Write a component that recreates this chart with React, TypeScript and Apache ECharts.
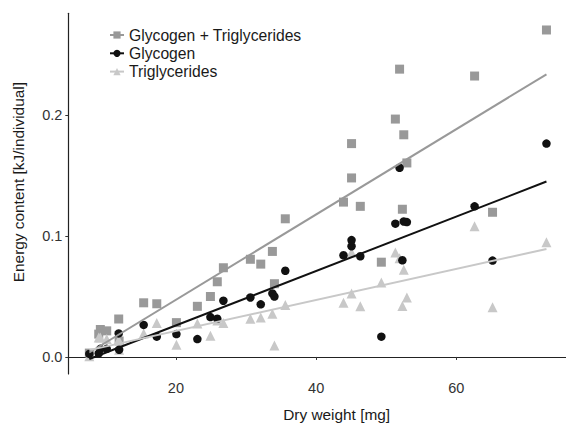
import React, { useEffect, useRef } from "react";
import * as echarts from "echarts";

// Dry weight [mg] of each individual
const dryWeight = [72.85, 51.9, 62.6, 51.3, 52.5, 45.05, 45.05, 52.94, 43.9, 46.3, 52.3, 65.16, 35.6, 49.3, 26.77, 33.76, 30.62, 32.1, 25.9, 34.05, 24.92, 23.06, 15.4, 17.27, 20.07, 11.84, 11.9, 9.22, 10.13, 8.99, 7.65];
// Energy content [kJ/individual]
const glycogenTrig = [0.2705, 0.2381, 0.2324, 0.1968, 0.1838, 0.1765, 0.1481, 0.1605, 0.1281, 0.1246, 0.1222, 0.1197, 0.1143, 0.0784, 0.0738, 0.0873, 0.0808, 0.0768, 0.0622, 0.0606, 0.05, 0.0419, 0.0448, 0.044, 0.0284, 0.0314, 0.0132, 0.0227, 0.0216, 0.0189, 0.0032];
const glycogen = [0.1765, 0.1565, 0.1246, 0.1103, 0.1121, 0.0916, 0.0967, 0.1116, 0.0841, 0.0833, 0.08, 0.0797, 0.0713, 0.0168, 0.0465, 0.0525, 0.0492, 0.0435, 0.0316, 0.05, 0.033, 0.0148, 0.0265, 0.0168, 0.0189, 0.0195, 0.006, 0.0067, 0.0067, 0.003, 0.0025];
const triglycerides = [0.0949, 0.0816, 0.1081, 0.0865, 0.0722, 0.0865, 0.0525, 0.0492, 0.0448, 0.0419, 0.0422, 0.0411, 0.043, 0.0616, 0.0281, 0.0357, 0.0316, 0.0327, 0.0302, 0.0095, 0.0176, 0.0276, 0.0195, 0.0281, 0.01, 0.0141, 0.0059, 0.016, 0.0149, 0.016, 0.0006];

const seriesNames = ["Glycogen + Triglycerides", "Glycogen", "Triglycerides"];
const xTicks = [20, 40, 60];
const yTicks = [0, 0.1, 0.2];

function fit(xs: number[], ys: number[]): [number, number][] {
  const n = xs.length;
  const mx = xs.reduce((a, b) => a + b, 0) / n;
  const my = ys.reduce((a, b) => a + b, 0) / n;
  let sxy = 0, sxx = 0;
  for (let i = 0; i < n; i++) { sxy += (xs[i] - mx) * (ys[i] - my); sxx += (xs[i] - mx) ** 2; }
  const b = sxy / sxx, a = my - b * mx;
  const x0 = Math.min(...xs), x1 = Math.max(...xs);
  return [[x0, a + b * x0], [x1, a + b * x1]];
}

export default function App() {
  const ref = useRef<HTMLDivElement>(null);
  useEffect(() => {
    if (!ref.current) return;
    const chart = echarts.init(ref.current, null, { renderer: "svg" });
    const font = "'Liberation Sans', Arial, Helvetica, sans-serif";
    const pts = (ys: number[]) => dryWeight.map((x, i) => [x, ys[i]]);
    const colors = ["#999999", "#111111", "#c8c8c8"];
    const symbols = ["rect", "circle", "triangle"];
    const sizes = [9, 8.5, 10];
    const dataSets = [glycogenTrig, glycogen, triglycerides];
    const lineSeries = seriesNames.map((name, k) => ({
      name,
      type: "line",
      data: fit(dryWeight, dataSets[k]),
      symbol: symbols[k],
      symbolSize: sizes[k],
      showSymbol: false,
      itemStyle: { color: colors[k] },
      lineStyle: { color: colors[k], width: 2 },
      z: 10,
      silent: true,
    }));
    const zs = [3, 5, 4];
    const scatterSeries = seriesNames.map((name, k) => ({
      name,
      type: "scatter",
      data: pts(dataSets[k]),
      symbol: symbols[k],
      symbolSize: sizes[k],
      itemStyle: { color: colors[k], opacity: 1 },
      z: zs[k],
    }));
    chart.setOption({
      animation: false,
      backgroundColor: "#ffffff",
      textStyle: { fontFamily: font },
      legend: {
        data: seriesNames,
        orient: "vertical",
        left: 104,
        top: 22,
        itemWidth: 14,
        itemHeight: 9,
        itemGap: 2.3,
        textStyle: { fontSize: 15.7, color: "#1a1a1a", fontFamily: font },
      },
      grid: { left: 68.3, right: 0, top: 13.3, bottom: 45.3, containLabel: false },
      xAxis: {
        type: "value",
        min: 4.65,
        max: 81.2,
        name: "Dry weight [mg]",
        nameLocation: "middle",
        nameGap: 33,
        nameTextStyle: { fontSize: 15.4, color: "#1a1a1a", fontFamily: font },
        axisLine: { lineStyle: { color: "#222", width: 1.2 } },
        axisTick: { customValues: xTicks, length: 3, lineStyle: { color: "#333" } },
        axisLabel: { customValues: xTicks, fontSize: 14.5, color: "#333", margin: 6, fontFamily: font },
        splitLine: { show: false },
      },
      yAxis: {
        type: "value",
        min: -0.0141,
        max: 0.2843,
        name: "Energy content [kJ/individual]",
        nameLocation: "middle",
        nameGap: 42,
        nameTextStyle: { fontSize: 15.4, color: "#1a1a1a", fontFamily: font, padding: [0, 0, 0, 23] },
        axisLine: { lineStyle: { color: "#222", width: 1.2 } },
        axisTick: { customValues: yTicks, length: 3, lineStyle: { color: "#333" } },
        axisLabel: { customValues: yTicks, fontSize: 14.5, color: "#333", margin: 6, fontFamily: font, formatter: (v: number) => v.toFixed(1) },
        splitLine: { show: false },
      },
      series: [...lineSeries, ...scatterSeries],
    });
    return () => chart.dispose();
  }, []);
  return (
    <div style={{ position: "fixed", left: 0, top: 0, width: 566, height: 427, overflow: "hidden" }}>
      <div ref={ref} style={{ width: 605, height: 427 }} />
    </div>
  );
}
